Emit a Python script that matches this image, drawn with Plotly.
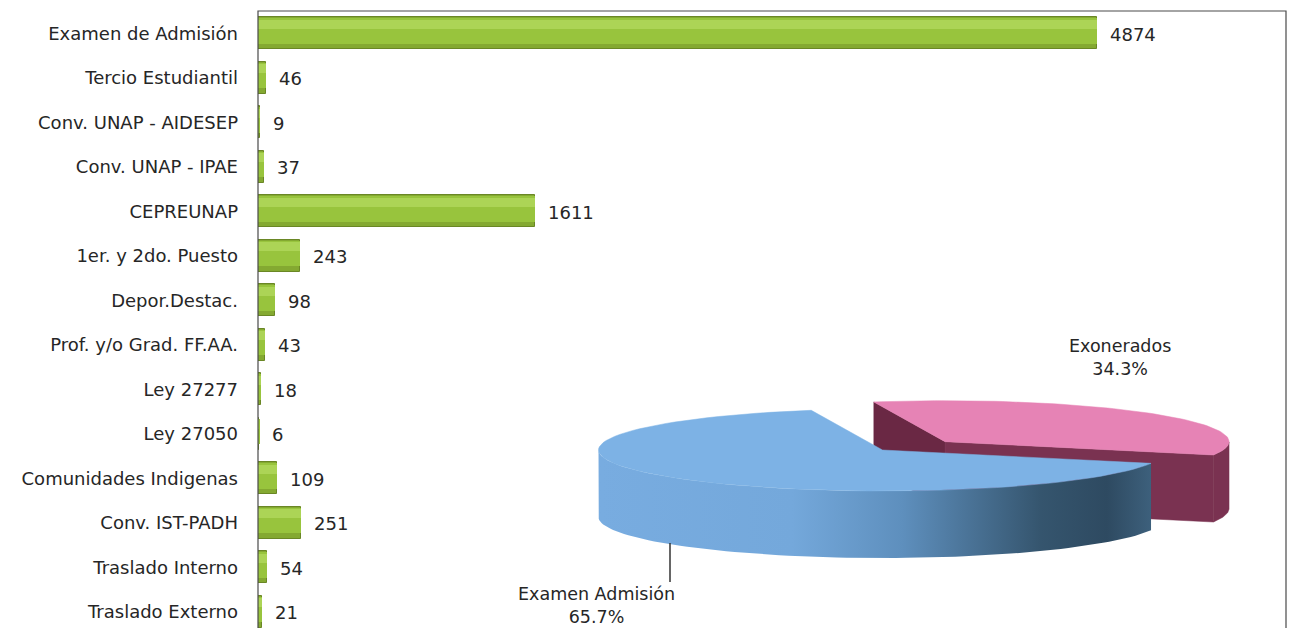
import math
import plotly.graph_objects as go

# Ingresantes por modalidad
categorias = [
    "Examen de Admisión", "Tercio Estudiantil", "Conv. UNAP - AIDESEP",
    "Conv. UNAP - IPAE", "CEPREUNAP", "1er. y 2do. Puesto", "Depor.Destac.",
    "Prof. y/o Grad. FF.AA.", "Ley 27277", "Ley 27050", "Comunidades Indigenas",
    "Conv. IST-PADH", "Traslado Interno", "Traslado Externo",
]
ingresantes = [4874, 46, 9, 37, 1611, 243, 98, 43, 18, 6, 109, 251, 54, 21]

# Resumen para la torta: examen de admisión frente a exonerados
torta_etiquetas = ["Examen Admisión", "Exonerados"]
torta_valores = [ingresantes[0], sum(ingresantes[1:])]

FONT = "DejaVu Sans"
TXT = "#262626"
W, H = 1292, 628
ML, MR, MT, MB = 258, 6, 11, 0
PW, PH = W - ML - MR, H - MT - MB
ROW = 44.5          # px per category row
XMAX = 5972

fig = go.Figure()

# barras: base + cuerpo + brillo superior (efecto cilíndrico suave)
fig.add_trace(go.Bar(
    y=categorias, x=ingresantes, orientation="h", width=0.72,
    marker=dict(color="#84a931", line=dict(color="#6a8725", width=1)),
    hoverinfo="x+y", showlegend=False,
))
fig.add_trace(go.Bar(
    y=categorias, x=ingresantes, orientation="h", width=0.58, offset=-0.34,
    marker=dict(color="#98c43d", line=dict(width=0)),
    hoverinfo="skip", showlegend=False,
))
fig.add_trace(go.Bar(
    y=categorias, x=ingresantes, orientation="h", width=0.2, offset=-0.3,
    marker=dict(color="rgba(178,216,92,0.8)", line=dict(width=0)),
    hoverinfo="skip", showlegend=False,
))

annotations = []
for cat, v in zip(categorias, ingresantes):
    annotations.append(dict(
        x=v, y=cat, xref="x", yref="y", text=str(v), showarrow=False,
        xanchor="left", yanchor="middle", xshift=11, yshift=-1,
        font=dict(family=FONT, size=18, color=TXT),
    ))

# ---- torta 3D (eje auxiliar en píxeles del área de trazado) ----
CX, CY = 624.5, 439.0
RX, RY = 284.0, 41.0
DEPTH = 67.0
EXPLODE = [0.0, 0.3]
START = 109.0       # ángulo (horario desde las 12) donde empieza la primera porción

total = sum(torta_valores)


def pt(cx, cy, th):
    r = math.radians(th)
    return cx + RX * math.sin(r), cy - RY * math.cos(r)


def arc(cx, cy, t0, t1, dy=0.0, n=80):
    xs, ys = [], []
    for i in range(n + 1):
        x, y = pt(cx, cy, t0 + (t1 - t0) * i / n)
        xs.append(x)
        ys.append(y + dy)
    return xs, ys


slices = []
t = START
for i, v in enumerate(torta_valores):
    sweep = v / total * 360.0
    t0, t1 = t, t + sweep
    mid = (t0 + t1) / 2
    ox = EXPLODE[i] * RX * math.sin(math.radians(mid))
    oy = -EXPLODE[i] * RY * math.cos(math.radians(mid))
    slices.append(dict(i=i, t0=t0, t1=t1, mid=mid, cx=CX + ox, cy=CY + oy))
    t = t1

styles = [
    dict(top="#7db2e5", side=None, face="#5d8fc0",
         grad=[[0, "#78ace0"], [0.35, "#74a8db"], [0.55, "#5e8fbd"],
               [0.8, "#35556e"], [0.92, "#2e4a61"], [1, "#3d607c"]]),
    dict(top="#e683b5", side="#7a3251", face="#6a2844", grad=None),
]


def poly(xs, ys, color=None, grad=None):
    kw = dict(x=xs, y=ys, xaxis="x2", yaxis="y2", mode="lines",
              line=dict(width=0.5, color=color or "rgba(0,0,0,0)"),
              fill="toself", hoverinfo="skip", showlegend=False)
    if grad:
        kw["fillgradient"] = dict(type="horizontal", colorscale=grad)
        kw["line"] = dict(width=0)
    else:
        kw["fillcolor"] = color
    fig.add_trace(go.Scatter(**kw))


# dibujar de atrás hacia adelante
for s in sorted(slices, key=lambda s: -math.cos(math.radians(s["mid"]))):
    st = styles[s["i"]]
    cx, cy, t0, t1 = s["cx"], s["cy"], s["t0"], s["t1"]
    # caras radiales visibles
    for th, nrm in ((t0, t0 - 90), (t1, t1 + 90)):
        if math.cos(math.radians(nrm)) < 0:
            rx, ry = pt(cx, cy, th)
            poly([cx, rx, rx, cx, cx], [cy, ry, ry + DEPTH, cy + DEPTH, cy],
                 color=st["face"] if th == t0 else (st["side"] or st["face"]))
    # pared exterior frontal
    n = 240
    seg = []
    for k in range(n + 1):
        th = t0 + (t1 - t0) * k / n
        if math.cos(math.radians(th)) <= 0:
            seg.append(th)
    if seg:
        a0, a1 = seg[0], seg[-1]
        xs, ys = arc(cx, cy, a0, a1)
        xb, yb = arc(cx, cy, a1, a0, dy=DEPTH)
        poly(xs + xb + [xs[0]], ys + yb + [ys[0]],
             color=st["side"], grad=st["grad"])
    # cara superior
    xs, ys = arc(cx, cy, t0, t1)
    poly([cx] + xs + [cx], [cy] + ys + [cy], color=st["top"])

pct = [f"{v / total * 100:.1f}%" for v in torta_valores]
annotations.append(dict(
    x=338, y=594, xref="x2", yref="y2", showarrow=False,
    text=f"{torta_etiquetas[0]}<br>{pct[0]}", align="center",
    font=dict(family=FONT, size=17.5, color=TXT),
))
annotations.append(dict(
    x=862, y=346, xref="x2", yref="y2", showarrow=False,
    text=f"{torta_etiquetas[1]}<br>{pct[1]}", align="center",
    font=dict(family=FONT, size=17.5, color=TXT),
))

shapes = [
    # línea guía de la etiqueta
    dict(type="line", xref="x2", yref="y2", x0=412, x1=412, y0=532, y1=571,
         line=dict(color="#333333", width=1.5)),
    # borde del área de trazado
    dict(type="rect", xref="paper", yref="paper", x0=0, x1=1, y0=-0.2, y1=1,
         line=dict(color="#4a4a4a", width=1.2), layer="above"),
]

fig.update_layout(
    width=W, height=H,
    margin=dict(l=ML, r=MR, t=MT, b=MB),
    paper_bgcolor="white", plot_bgcolor="white",
    barmode="overlay", bargap=0,
    showlegend=False,
    xaxis=dict(range=[0, XMAX], showgrid=False, zeroline=False,
               showticklabels=False, showline=False, fixedrange=True),
    yaxis=dict(type="category", categoryorder="array", categoryarray=categorias,
               range=[-0.5 + PH / ROW, -0.5], showgrid=False, zeroline=False,
               showline=False, ticks="", ticklabelstandoff=19,
               tickfont=dict(family=FONT, size=18, color=TXT), fixedrange=True),
    xaxis2=dict(domain=[0, 1], range=[0, PW], anchor="y2", overlaying="x",
                visible=False, fixedrange=True),
    yaxis2=dict(domain=[0, 1], range=[PH, 0], anchor="x2", overlaying="y",
                visible=False, fixedrange=True),
    annotations=annotations,
    shapes=shapes,
)

fig.write_html("out.html")
